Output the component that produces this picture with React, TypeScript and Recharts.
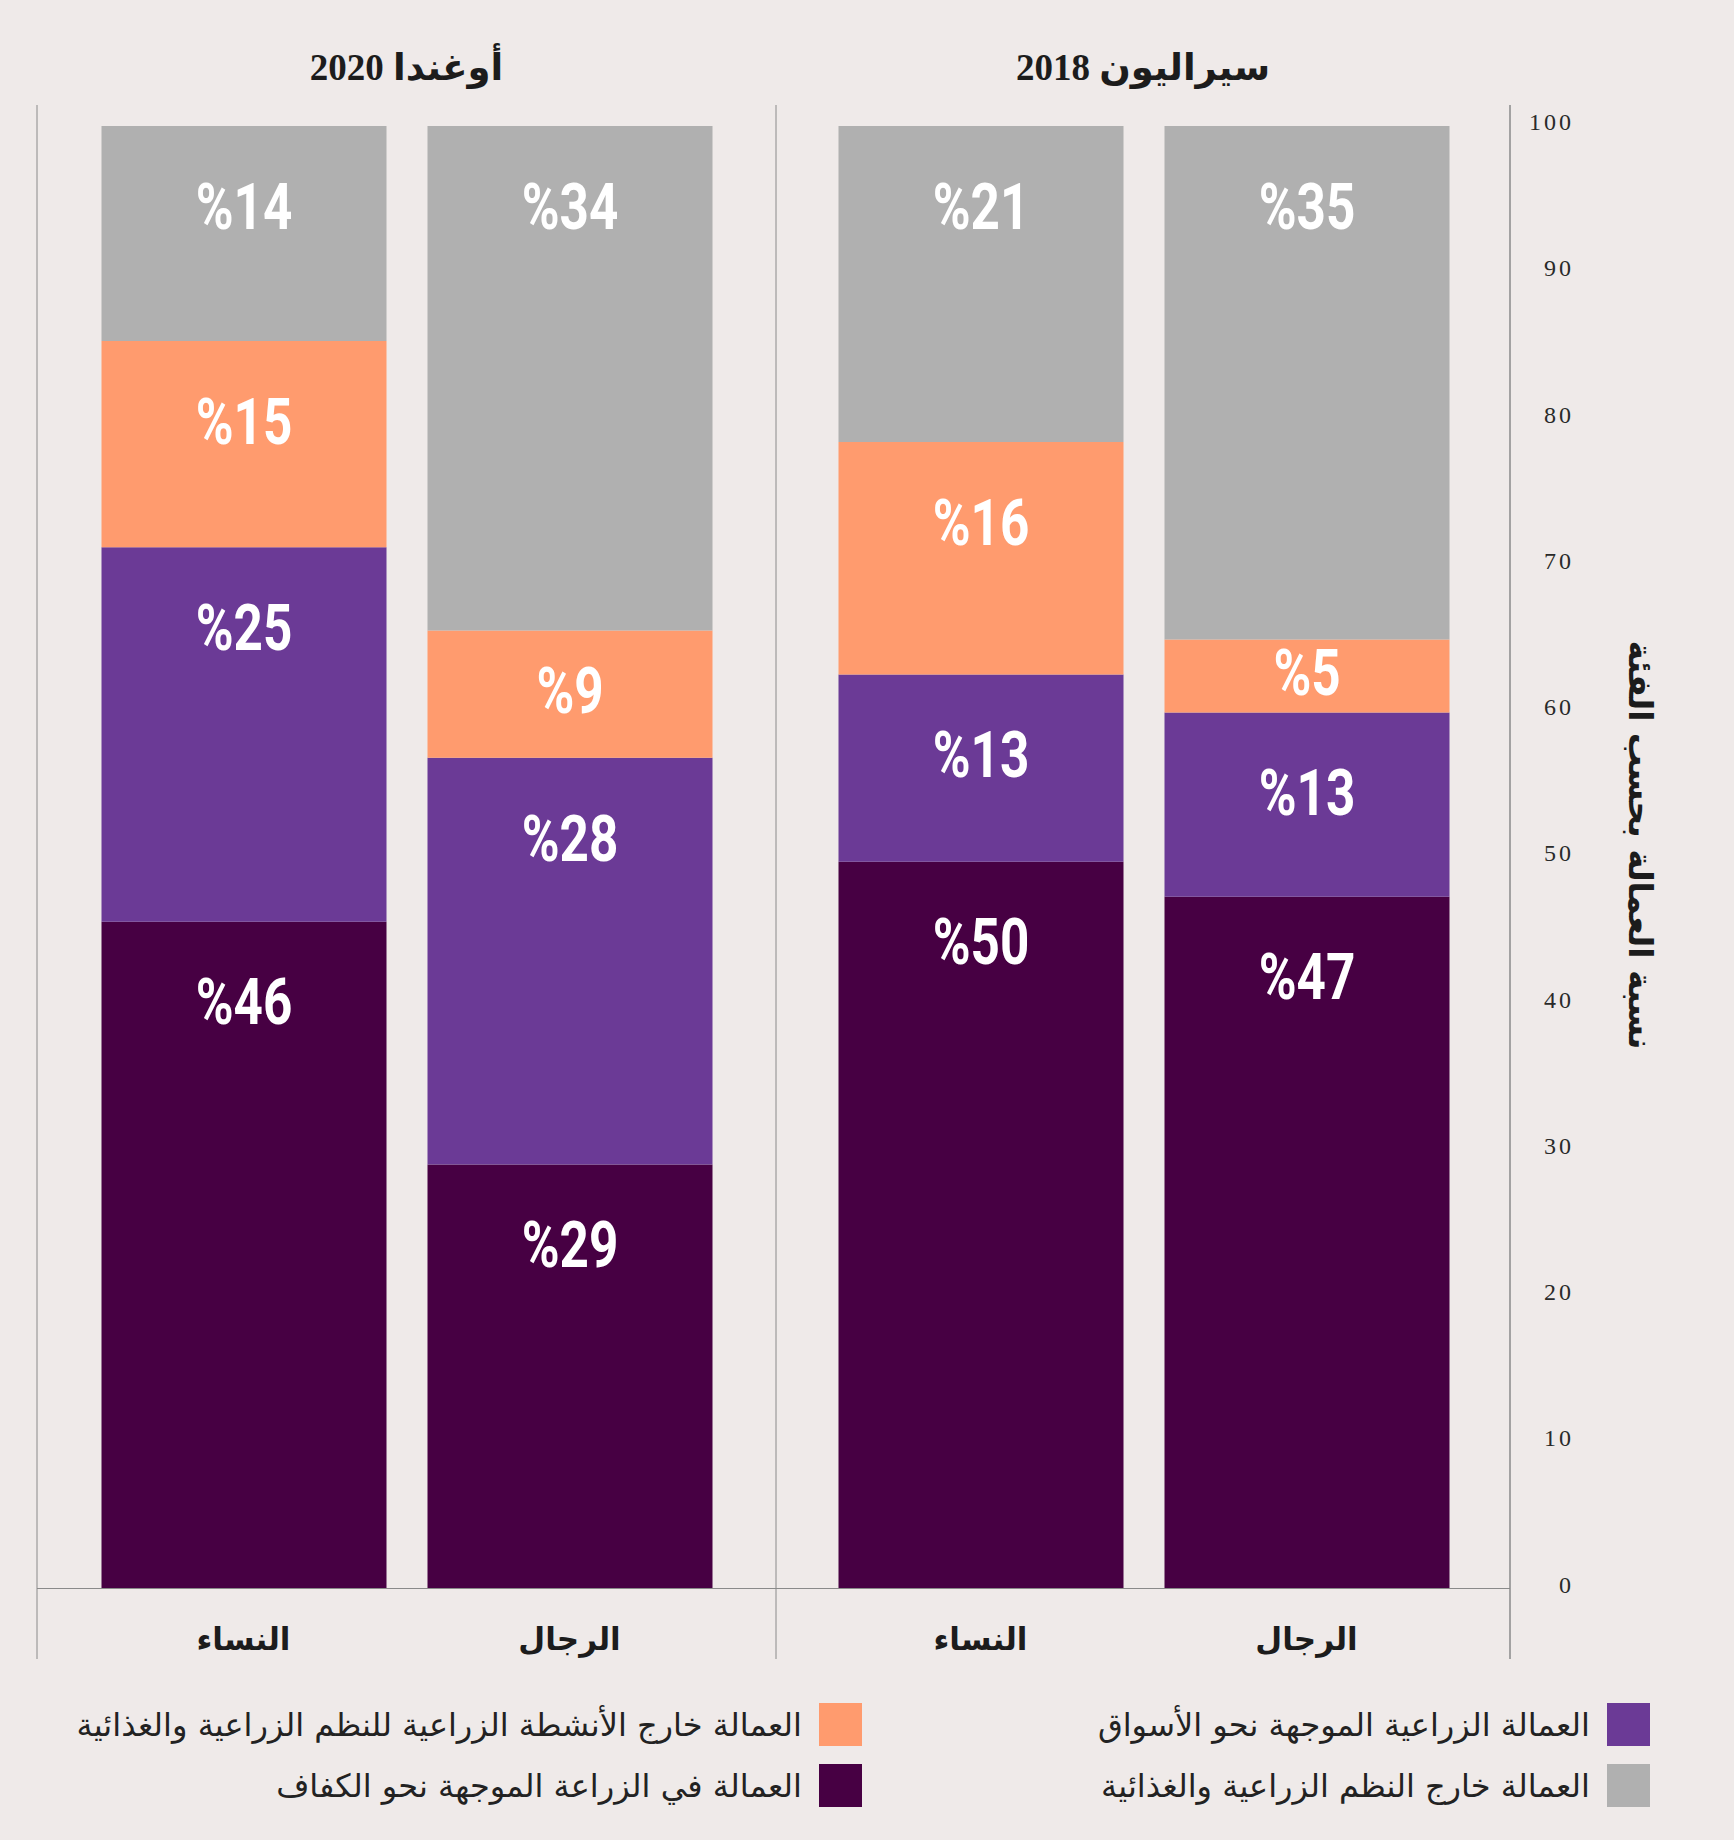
import React from 'react';
import { BarChart, Bar, XAxis, YAxis, CartesianGrid, ReferenceLine, LabelList } from 'recharts';

// ---------- data ----------
const groups = ['النساء', 'الرجال'];

const panelTitles = ['أوغندا 2020', 'سيراليون 2018'];

// Uganda 2020 (women, men)
const ugSubsistence = [45.6, 29.0];
const ugMarket = [25.6, 27.8];
const ugOffFarmAgri = [14.1, 8.7];
const ugOutside = [14.7, 34.5];
const ugSubsistenceLabels = ['%46', '%29'];
const ugMarketLabels = ['%25', '%28'];
const ugOffFarmAgriLabels = ['%15', '%9'];
const ugOutsideLabels = ['%14', '%34'];

// Sierra Leone 2018 (women, men)
const slSubsistence = [49.7, 47.3];
const slMarket = [12.8, 12.6];
const slOffFarmAgri = [15.9, 5.0];
const slOutside = [21.6, 35.1];
const slSubsistenceLabels = ['%50', '%47'];
const slMarketLabels = ['%13', '%13'];
const slOffFarmAgriLabels = ['%16', '%5'];
const slOutsideLabels = ['%21', '%35'];

const yTicks = [0, 10, 20, 30, 40, 50, 60, 70, 80, 90, 100];
const yAxisTitle = 'نسبة العمالة بحسب الفئة';

const seriesKeys = ['subsistence', 'market', 'offFarm', 'outside'];
const seriesNames = [
  'العمالة في الزراعة الموجهة نحو الكفاف',
  'العمالة الزراعية الموجهة نحو الأسواق',
  'العمالة خارج الأنشطة الزراعية للنظم الزراعية والغذائية',
  'العمالة خارج النظم الزراعية والغذائية',
];
const seriesColors = ['#470043', '#6B3A96', '#FF9B6E', '#B0B0B0'];

// legend reading order (right column first, RTL)
const legendOrder = ['market', 'offFarm', 'outside', 'subsistence'];

// ---------- build tables ----------
function buildRows(values: number[][], labels: string[][]) {
  return groups.map((g, i) => {
    const row: any = { group: g };
    seriesKeys.forEach((k, s) => {
      row[k] = values[s][i];
      row[k + 'Label'] = labels[s][i];
    });
    return row;
  });
}

const ugRows = buildRows(
  [ugSubsistence, ugMarket, ugOffFarmAgri, ugOutside],
  [ugSubsistenceLabels, ugMarketLabels, ugOffFarmAgriLabels, ugOutsideLabels]
);
const slRows = buildRows(
  [slSubsistence, slMarket, slOffFarmAgri, slOutside],
  [slSubsistenceLabels, slMarketLabels, slOffFarmAgriLabels, slOutsideLabels]
);

// ---------- layout constants ----------
const BG = '#EFEAE9';
const LINE = '#8a8a8a';
const TEXT = '#1c1c1c';
const CH = 1700;
const TOP = 105;
const XAXIS_H = 20;
const BOTTOM_MARGIN = 21;
const Y_DOMAIN: [number, number] = [-4.82, 101.44];
const ARABIC_FONT = "'DejaVu Sans', sans-serif";
const TITLE_FONT = "'Liberation Serif', 'DejaVu Sans', serif";
const BAR_FONT = "Roboto, 'DejaVu Sans', sans-serif";
const BAR_FS = 64;

const renderBarLabel = (props: any) => {
  const { x, y, width, height, value } = props;
  const top = Math.min(Number(y), Number(y) + Number(height));
  const h = Math.abs(Number(height));
  const cx = Number(x) + Number(width) / 2;
  const cy = top + Math.min(80, h / 2 - 4);
  return (
    <text
      transform={`translate(${cx},${cy + BAR_FS * 0.355}) scale(0.8,1)`}
      x={0}
      y={0}
      textAnchor="middle"
      fill="#ffffff"
      fontFamily={BAR_FONT}
      fontWeight={700}
      fontSize={BAR_FS}
    >
      {value}
    </text>
  );
};

const CategoryTick = (props: any) => {
  const { x, payload } = props;
  return (
    <text
      x={x}
      y={1650}
      textAnchor="middle"
      fill={TEXT}
      fontFamily={ARABIC_FONT}
      fontWeight={700}
      fontSize={31}
      direction="rtl"
    >
      {payload.value}
    </text>
  );
};

const SL_PLOT_RIGHT = 734;

const YTick = (props: any) => {
  const { y, payload } = props;
  return (
    <text
      x={SL_PLOT_RIGHT + 64}
      y={Number(y) + 4}
      textAnchor="end"
      fill="#2a2a2a"
      fontFamily="'Liberation Serif', serif"
      fontSize={24}
      letterSpacing={3}
    >
      {payload.value}
    </text>
  );
};

const YTitle = () => (
  <text
    transform={`translate(${SL_PLOT_RIGHT + 130},845) rotate(90)`}
    x={0}
    y={0}
    textAnchor="middle"
    dominantBaseline="central"
    fill={TEXT}
    fontFamily={ARABIC_FONT}
    fontWeight={700}
    fontSize={33}
    direction="rtl"
  >
    {yAxisTitle}
  </text>
);

function renderBars() {
  return seriesKeys.map((k, s) => (
    <Bar
      key={k}
      dataKey={k}
      name={seriesNames[s]}
      stackId="a"
      fill={seriesColors[s]}
      barSize={285}
      isAnimationActive={false}
    >
      <LabelList dataKey={k + 'Label'} content={renderBarLabel} />
    </Bar>
  ));
}

export default function App() {
  return (
    <div
      style={{
        position: 'absolute',
        left: 0,
        top: 0,
        width: 1734,
        height: 1840,
        background: BG,
        overflow: 'hidden',
      }}
    >
      {/* panel titles */}
      {panelTitles.map((t, i) => (
        <div
          key={t}
          style={{
            position: 'absolute',
            left: i === 0 ? 37 : 776,
            width: i === 0 ? 739 : 734,
            top: 42,
            height: 52,
            lineHeight: '52px',
            textAlign: 'center',
            direction: 'rtl',
            fontFamily: TITLE_FONT,
            fontWeight: 700,
            fontSize: 37,
            color: TEXT,
          }}
        >
          {t}
        </div>
      ))}

      {/* Uganda panel */}
      <div style={{ position: 'absolute', left: 0, top: 0 }}>
        <BarChart
          width={780}
          height={CH}
          data={ugRows}
          margin={{ top: TOP, right: 4, left: 37, bottom: BOTTOM_MARGIN }}
        >
          <CartesianGrid
            horizontal={false}
            vertical={true}
            stroke={LINE}
            strokeDasharray=""
            verticalCoordinatesGenerator={(p: any) =>
              p && p.offset ? [p.offset.left, p.offset.left + p.offset.width] : [37, 776]
            }
          />
          <XAxis
            dataKey="group"
            type="category"
            height={XAXIS_H}
            axisLine={false}
            tickLine={false}
            padding={{ left: 43.5, right: 43.5 }}
            tick={<CategoryTick />}
            interval={0}
          />
          <YAxis hide type="number" domain={Y_DOMAIN} allowDataOverflow ticks={yTicks} />
          {renderBars()}
          <ReferenceLine y={0} stroke={LINE} strokeWidth={1} />
        </BarChart>
      </div>

      {/* Sierra Leone panel */}
      <div style={{ position: 'absolute', left: 776, top: 0 }}>
        <BarChart
          width={958}
          height={CH}
          data={slRows}
          margin={{ top: TOP, right: 64, left: 0, bottom: BOTTOM_MARGIN }}
        >
          <XAxis
            dataKey="group"
            type="category"
            height={XAXIS_H}
            axisLine={false}
            tickLine={false}
            padding={{ left: 41.5, right: 40.5 }}
            tick={<CategoryTick />}
            interval={0}
          />
          <YAxis
            orientation="right"
            type="number"
            width={160}
            domain={Y_DOMAIN}
            allowDataOverflow
            ticks={yTicks}
            interval={0}
            axisLine={{ stroke: LINE, strokeWidth: 1.5 }}
            tickLine={false}
            tick={<YTick />}
            label={{ value: yAxisTitle, content: () => <YTitle /> }}
          />
          {renderBars()}
          <ReferenceLine y={0} stroke={LINE} strokeWidth={1} />
        </BarChart>
      </div>

      {/* legend */}
      {legendOrder.map((k, i) => {
        const s = seriesKeys.indexOf(k);
        const col = i % 2;
        const row = Math.floor(i / 2);
        return (
          <div
            key={k}
            style={{
              position: 'absolute',
              right: col === 0 ? 84 : 872,
              top: 1703 + row * 61,
              height: 43,
              display: 'flex',
              flexDirection: 'row-reverse',
              alignItems: 'center',
              gap: 17,
            }}
          >
            <div style={{ width: 43, height: 43, background: seriesColors[s] }} />
            <div
              style={{
                direction: 'rtl',
                fontFamily: ARABIC_FONT,
                fontSize: 32,
                color: '#222',
                whiteSpace: 'nowrap',
              }}
            >
              {seriesNames[s]}
            </div>
          </div>
        );
      })}
    </div>
  );
}
